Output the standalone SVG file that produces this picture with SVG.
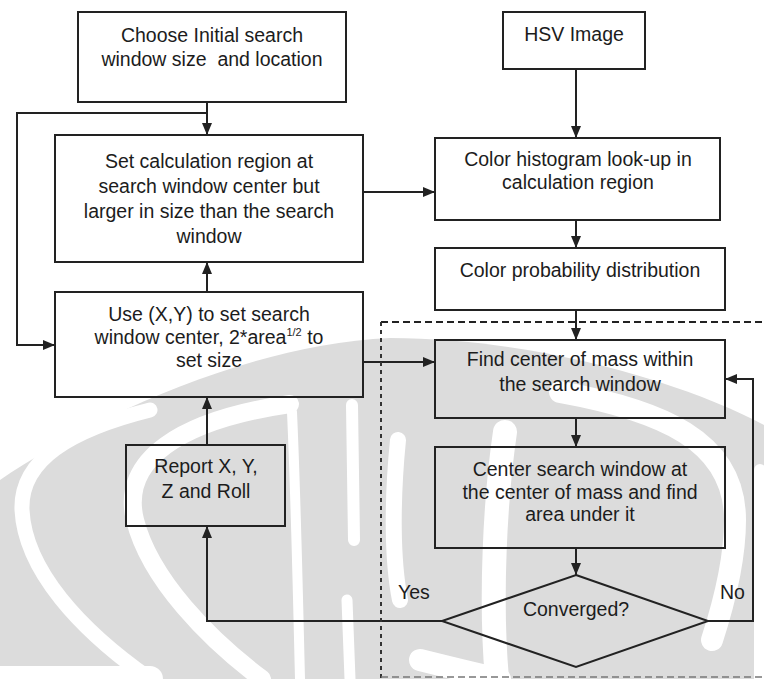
<svg xmlns="http://www.w3.org/2000/svg" width="764" height="679" viewBox="0 0 764 679">
  <style>
    .box { fill: none; stroke: #222; stroke-width: 2; }
    .lbl { font-family: "Liberation Sans", Arial, sans-serif; font-size: 19.5px; fill: #1c1c1c; text-anchor: middle; }
    .tag { font-family: "Liberation Sans", Arial, sans-serif; font-size: 19.5px; fill: #1c1c1c; }
    .wire { fill: none; stroke: #222; stroke-width: 2; }
    .gap { fill: none; stroke: #fff; stroke-linecap: round; }
  </style>
  <defs>
    <marker id="arrow" markerUnits="userSpaceOnUse" markerWidth="13" markerHeight="11" refX="12" refY="5" orient="auto">
      <path d="M0,0 L12,5 L0,10 Z" fill="#222"/>
    </marker>
  </defs>

  <rect width="764" height="679" fill="#fff"/>

  <!-- faint background emblem -->
  <g id="emblem">
    <path d="M0 480 C80 425 240 345 390 338 C540 338 690 385 764 425 L764 679 L0 679 Z" fill="#dcdcdc"/>
    <path class="gap" stroke-width="15" d="M150 410 C70 430 20 460 22 510 C25 570 80 630 150 679"/>
    <path class="gap" stroke-width="18" d="M290 404 C180 420 120 460 135 520 C150 580 210 640 262 679"/>
    <path class="gap" stroke-width="10" d="M292 412 C296 500 298 600 300 679"/>
    <path class="gap" stroke-width="12" d="M352 405 L354 540"/>
    <path class="gap" stroke-width="11" d="M347 600 L350 679"/>
    <path class="gap" stroke-width="16" d="M398 440 C392 500 392 560 400 600"/>
    <path class="gap" stroke-width="26" d="M0 679 L150 679"/>
    <path class="gap" stroke-width="24" d="M505 432 C495 500 490 600 497 679"/>
    <path class="gap" stroke-width="22" d="M420 660 C460 670 480 675 500 679"/>
    <path class="gap" stroke-width="22" d="M560 392 C660 410 735 440 735 520 C735 560 725 600 712 640"/>
    <path class="gap" stroke-width="12" d="M760 470 L760 679"/>
  </g>

  <!-- connectors -->
  <g id="connectors">
    <path class="wire" d="M207 102 L207 135" marker-end="url(#arrow)"/>
    <path class="wire" d="M207 113 L17 113 L17 345 L55 345" marker-end="url(#arrow)"/>
    <path class="wire" d="M207 292 L207 262" marker-end="url(#arrow)"/>
    <path class="wire" d="M207 445 L207 397" marker-end="url(#arrow)"/>
    <path class="wire" d="M442 621 L207 621 L207 526" marker-end="url(#arrow)"/>
    <path class="wire" d="M363 192 L435 192" marker-end="url(#arrow)"/>
    <path class="wire" d="M576 69 L576 138" marker-end="url(#arrow)"/>
    <path class="wire" d="M576 220 L576 248" marker-end="url(#arrow)"/>
    <path class="wire" d="M576 310 L576 340" marker-end="url(#arrow)"/>
    <path class="wire" d="M363 362 L435 362" marker-end="url(#arrow)"/>
    <path class="wire" d="M576 418 L576 447" marker-end="url(#arrow)"/>
    <path class="wire" d="M576 548 L576 575" marker-end="url(#arrow)"/>
    <path class="wire" d="M708 621 L753 621 L753 379 L725 379" marker-end="url(#arrow)"/>
    <!-- dashed frame around the search loop -->
    <path d="M381 322 L764 322" fill="none" stroke="#222" stroke-width="2" stroke-dasharray="7 4"/>
    <path d="M381 322 L381 679" fill="none" stroke="#333" stroke-width="2" stroke-dasharray="4 4"/>
    <path d="M381 677 L764 677" fill="none" stroke="#777" stroke-width="1.5" stroke-dasharray="7 4"/>
  </g>

  <g id="choose-window">
    <rect class="box" x="78" y="12" width="268" height="90"/>
    <text class="lbl" x="212" y="42">Choose Initial search</text>
    <text class="lbl" x="212" y="66" xml:space="preserve">window size  and location</text>
  </g>

  <g id="hsv-image">
    <rect class="box" x="503" y="12" width="142" height="57"/>
    <text class="lbl" x="574" y="41">HSV Image</text>
  </g>

  <g id="calc-region">
    <rect class="box" x="55" y="135" width="308" height="127"/>
    <text class="lbl" x="209" y="168">Set calculation region at</text>
    <text class="lbl" x="209" y="193">search window center but</text>
    <text class="lbl" x="209" y="218">larger in size than the search</text>
    <text class="lbl" x="209" y="243">window</text>
  </g>

  <g id="histogram">
    <rect class="box" x="435" y="138" width="285" height="82"/>
    <text class="lbl" x="578" y="166">Color histogram look-up in</text>
    <text class="lbl" x="578" y="189">calculation region</text>
  </g>

  <g id="probability">
    <rect class="box" x="435" y="248" width="290" height="62"/>
    <text class="lbl" x="580" y="277">Color probability distribution</text>
  </g>

  <g id="set-window">
    <rect class="box" x="55" y="292" width="308" height="105"/>
    <text class="lbl" x="209" y="321">Use (X,Y) to set search</text>
    <text class="lbl" x="209" y="344">window center, 2*area<tspan font-size="11" dy="-8">1/2</tspan><tspan dy="8"> to</tspan></text>
    <text class="lbl" x="209" y="367">set size</text>
  </g>

  <g id="center-of-mass">
    <rect class="box" x="435" y="340" width="290" height="78"/>
    <text class="lbl" x="580" y="366">Find center of mass within</text>
    <text class="lbl" x="580" y="391">the search window</text>
  </g>

  <g id="report">
    <rect class="box" x="126" y="445" width="159" height="81"/>
    <text class="lbl" x="206" y="473">Report X, Y,</text>
    <text class="lbl" x="206" y="498">Z and Roll</text>
  </g>

  <g id="recenter">
    <rect class="box" x="435" y="447" width="290" height="101"/>
    <text class="lbl" x="580" y="476">Center search window at</text>
    <text class="lbl" x="580" y="499">the center of mass and find</text>
    <text class="lbl" x="580" y="521">area under it</text>
  </g>

  <g id="converged">
    <path class="box" d="M576 575 L708 621 L576 667 L442 621 Z"/>
    <text class="lbl" x="576" y="616">Converged?</text>
    <text class="tag" x="398" y="599">Yes</text>
    <text class="tag" x="720" y="599">No</text>
  </g>
</svg>
